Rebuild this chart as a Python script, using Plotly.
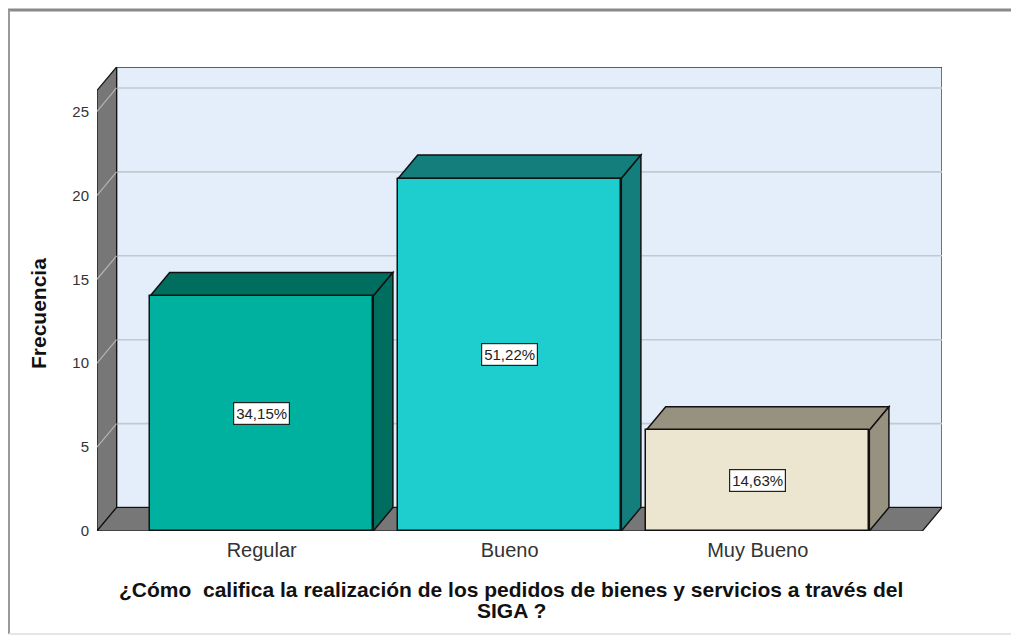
import plotly.graph_objects as go

categories = ["Regular", "Bueno", "Muy Bueno"]
frequencies = [14, 21, 6]
percent_labels = ["34,15%", "51,22%", "14,63%"]
y_ticks = [0, 5, 10, 15, 20, 25]

front_colors = ["#00B19F", "#1ECDCD", "#ECE5CF"]
depth_colors = ["#006E5F", "#137E7C", "#979180"]

FONT = "Arial, 'Liberation Sans', sans-serif"
OFF = 8                      # page body margin in the browser
W, H = 1019 - OFF, 637 - OFF
L, R, T, B = 97 - OFF, 77, 67 - OFF, 106

bar_w = 0.9
x0, x1 = -0.664, 2.664          # front floor extent (category units)
dx, dy = 0.079, 1.4             # 3D depth offset in data units
wall_h = 26.25                  # wall height in data units

xs = list(range(len(categories)))

fig = go.Figure()
fig.add_trace(go.Bar(
    x=xs, y=frequencies, width=bar_w,
    marker=dict(color=front_colors, line=dict(color="#111111", width=1.5)),
    hoverinfo="skip", showlegend=False,
))

shapes = []
def poly(pts, fill, line="#111111", lw=1.2, layer="below"):
    d = "M " + " L ".join(f"{px_},{py_}" for px_, py_ in pts) + " Z"
    shapes.append(dict(type="path", path=d, xref="x", yref="y",
                       fillcolor=fill, line=dict(color=line, width=lw), layer=layer))

def seg(xa, ya, xb, yb, color, lw=1.3):
    shapes.append(dict(type="line", x0=xa, y0=ya, x1=xb, y1=yb, xref="x", yref="y",
                       line=dict(color=color, width=lw), layer="below"))

# back wall
poly([(x0 + dx, dy), (x1 + dx, dy), (x1 + dx, wall_h + dy), (x0 + dx, wall_h + dy)],
     "#E3EEFA", line="#333333", lw=1.3)
# gridlines on back wall
for v in y_ticks[1:]:
    seg(x0 + dx, v + dy, x1 + dx, v + dy, "#C4C9CE", 1.6)
# left wall
poly([(x0, 0), (x0, wall_h), (x0 + dx, wall_h + dy), (x0 + dx, dy)], "#777777")
# floor
poly([(x0, 0), (x1, 0), (x1 + dx, dy), (x0 + dx, dy)], "#777777")
# diagonal grid marks on left wall
for v in y_ticks[1:]:
    seg(x0, v, x0 + dx, v + dy, "#B5B5B5", 1.2)

# bar depth faces (top and side)
for xi, v, c in zip(xs, frequencies, depth_colors):
    l, r = xi - bar_w / 2, xi + bar_w / 2
    poly([(l, v), (r, v), (r + dx, v + dy), (l + dx, v + dy)], c, lw=1.5)
    poly([(r, 0), (r, v), (r + dx, v + dy), (r + dx, dy)], c, lw=1.5)

ph = H - T - B
pw = W - L - R
def py(p):   # window pixel y -> paper
    return (H - B - (p - OFF)) / ph
def px(p):   # window pixel x -> paper
    return ((p - OFF) - L) / pw

# outer frame
shapes.append(dict(type="line", xref="paper", yref="paper",
                   x0=px(8), x1=px(1019), y0=py(10), y1=py(10),
                   line=dict(color="#8A8A8A", width=3), layer="above"))
shapes.append(dict(type="line", xref="paper", yref="paper",
                   x0=px(9), x1=px(9), y0=py(10), y1=py(634),
                   line=dict(color="#9A9A9A", width=2), layer="above"))
shapes.append(dict(type="line", xref="paper", yref="paper",
                   x0=px(1015), x1=px(1015), y0=py(10), y1=py(634),
                   line=dict(color="#E6E6E6", width=2), layer="above"))
shapes.append(dict(type="line", xref="paper", yref="paper",
                   x0=px(9), x1=px(1015), y0=py(634), y1=py(634),
                   line=dict(color="#E6E6E6", width=2), layer="above"))

annotations = []
for xi, v, t in zip(xs, frequencies, percent_labels):
    annotations.append(dict(x=xi, y=v / 2, xref="x", yref="y", text=t, showarrow=False,
                            font=dict(family=FONT, size=15, color="#222222"),
                            bgcolor="white", bordercolor="#222222", borderwidth=1.2,
                            borderpad=2))

annotations.append(dict(xref="paper", yref="paper", x=px(38), y=py(314),
                        xanchor="center", yanchor="middle",
                        text="<b>Frecuencia</b>", textangle=-90, showarrow=False,
                        font=dict(family=FONT, size=21, color="#111111")))
annotations.append(dict(xref="paper", yref="paper", x=px(511), y=py(589),
                        xanchor="center", yanchor="middle",
                        text="<b>¿Cómo  califica la realización de los pedidos de bienes y servicios a través del</b>",
                        showarrow=False, font=dict(family=FONT, size=21, color="#111111")))
annotations.append(dict(xref="paper", yref="paper", x=px(511), y=py(610),
                        xanchor="center", yanchor="middle",
                        text="<b>SIGA ?</b>",
                        showarrow=False, font=dict(family=FONT, size=21, color="#111111")))

fig.update_layout(
    width=W, height=H,
    margin=dict(l=L, r=R, t=T, b=B, pad=0),
    paper_bgcolor="white", plot_bgcolor="white",
    shapes=shapes, annotations=annotations,
    bargap=0, showlegend=False,
    xaxis=dict(range=[x0, x1 + dx], tickvals=xs, ticktext=categories,
               showgrid=False, zeroline=False, showline=False, ticks="",
               tickfont=dict(family=FONT, size=20, color="#333333"),
               ticklabelstandoff=5, fixedrange=True),
    yaxis=dict(range=[0, wall_h + dy], tickvals=y_ticks,
               showgrid=False, zeroline=False, showline=False, ticks="",
               tickfont=dict(family=FONT, size=15, color="#333333"),
               ticklabelstandoff=7, fixedrange=True),
)

fig.write_html("out.html")
